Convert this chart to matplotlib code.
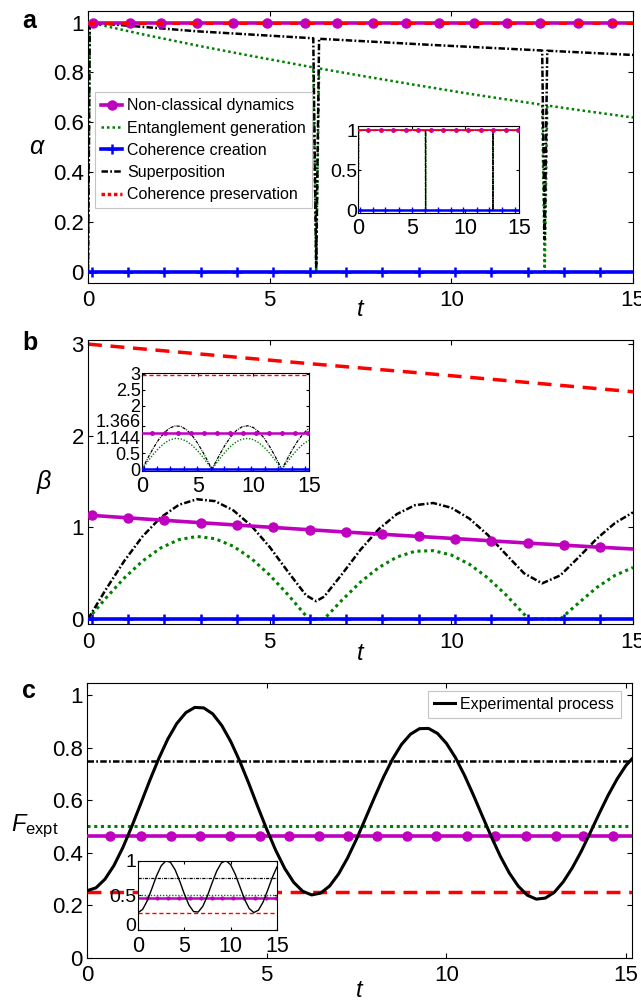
import numpy as np
import matplotlib
matplotlib.use('Agg')
from matplotlib import pyplot as plt
from matplotlib.lines import Line2D
from matplotlib.transforms import ScaledTranslation

plt.rcParams['font.family'] = ['Liberation Sans', 'DejaVu Sans']
plt.rcParams['mathtext.fontset'] = 'custom'
plt.rcParams['mathtext.rm'] = 'Liberation Sans'
plt.rcParams['mathtext.it'] = 'Liberation Sans:italic'

MAG = '#bf00bf'
GREEN = '#008000'
BLUE = '#0000ff'
RED = '#ff0000'
DASHDOT = (0, (2.6, 0.9, 0.7, 0.9))
DOTTED = (0, (1, 1.2))
DASHED = (0, (4, 2.5))

"""data read off the figure"""

labels = ['Non-classical dynamics', 'Entanglement generation', 'Coherence creation',
          'Superposition', 'Coherence preservation']

# panel a (alpha)
a_span = [0, 15]
a_mag_marks = [0.14, 1.16, 2.02, 3.0, 3.99, 4.92, 5.96, 6.85, 7.85, 8.75, 9.67, 10.62,
               11.53, 12.44, 13.5, 14.42]
a_blue_marks = [0.1, 1.1, 2.1, 3.1, 4.1, 5.1, 6.1, 7.1, 8.1, 9.1, 10.1, 11.1, 12.1, 13.1, 14.1]
a_mag = 1.0
a_red = 1.0
a_blue = 0.0
a_black_t = [0, 0.05, 3.0, 6.2, 6.28, 6.36, 9.5, 12.5, 12.57, 12.64, 15]
a_black = [0, 1.0, 0.965, 0.937, 0.02, 0.935, 0.91, 0.888, 0.13, 0.887, 0.87]
a_green_t = [0, 0.05, 1.5, 3.0, 4.5, 6.2, 6.28, 6.36, 7.5, 9.0, 10.5, 12.5, 12.57, 12.64, 13.5, 15]
a_green = [0, 1.0, 0.953, 0.908, 0.866, 0.820, 0.0, 0.816, 0.787, 0.750, 0.714, 0.670, 0.0,
           0.667, 0.649, 0.619]

# inset a
ia_t = [0, 0.03, 6.26, 6.28, 6.30, 12.55, 12.57, 12.59, 15]
ia_black = [0, 1, 1, 0, 1, 1, 0, 1, 1]
ia_green = [0, 1, 1, 0, 1, 1, 0, 1, 1]
ins_mag_marks = [0.93, 2.1, 3.27, 4.44, 5.6, 6.77, 7.94, 9.1, 10.27, 11.44, 12.6, 13.77, 14.94]
ins_blue_marks = [0.16, 1.34, 2.49, 3.8, 4.98, 6.22, 7.41, 8.62, 9.8, 11.05, 12.23, 13.44, 14.63]

# panel b (beta)
b_red_t = [0, 3, 6, 9, 12, 15]
b_red = [3.0, 2.895, 2.79, 2.69, 2.585, 2.48]
b_mag_t = [0, 0.1, 1.1, 2.1, 3.1, 4.1, 5.1, 6.1, 7.1, 8.1, 9.1, 10.1, 11.1, 12.1, 13.1, 14.1, 15]
b_mag = [1.134, 1.131, 1.104, 1.077, 1.051, 1.025, 0.999, 0.974, 0.949, 0.925, 0.901, 0.878,
         0.853, 0.829, 0.806, 0.783, 0.764]
b_black_t = [0, 0.5, 1, 1.5, 2, 2.5, 3, 3.5, 4, 4.5, 5, 5.5, 6, 6.28, 6.5, 7, 7.5, 8, 8.5, 9,
             9.5, 10, 10.5, 11, 11.5, 12, 12.5, 13, 13.5, 14, 14.5, 15]
b_black = [0, 0.328, 0.635, 0.901, 1.108, 1.246, 1.307, 1.286, 1.186, 1.015, 0.786, 0.518,
           0.259, 0.195, 0.244, 0.494, 0.756, 0.980, 1.145, 1.242, 1.266, 1.214, 1.095, 0.919,
           0.707, 0.499, 0.389, 0.476, 0.672, 0.875, 1.046, 1.164]
b_green_t = [0, 0.5, 1, 1.5, 2, 2.5, 3, 3.5, 4, 4.5, 5, 5.5, 6, 6.07, 6.5, 7, 7.5, 8, 8.5, 9,
             9.5, 10, 10.5, 11, 11.5, 12, 12.11, 12.5, 13, 13.5, 14, 14.5, 15]
b_green = [0, 0.232, 0.448, 0.632, 0.775, 0.866, 0.901, 0.876, 0.794, 0.659, 0.480, 0.267,
           0.035, 0, 0, 0.210, 0.403, 0.561, 0.676, 0.739, 0.746, 0.698, 0.597, 0.450, 0.265,
           0.054, 0, 0, 0, 0.174, 0.343, 0.475, 0.562]

# inset b
ib_t = [0, 0.5, 1, 1.5, 2, 2.5, 3, 3.5, 4, 4.5, 5, 5.5, 6, 6.28, 6.5, 7, 7.5, 8, 8.5, 9, 9.5,
        10, 10.5, 11, 11.5, 12, 12.5, 12.57, 13, 13.5, 14, 14.5, 15]
ib_black = [0, 0.338, 0.655, 0.931, 1.149, 1.296, 1.363, 1.344, 1.242, 1.063, 0.818, 0.521,
            0.193, 0, 0.148, 0.479, 0.781, 1.034, 1.223, 1.335, 1.365, 1.310, 1.173, 0.964,
            0.694, 0.382, 0.045, 0, 0.294, 0.615, 0.897, 1.124, 1.281]
ib_green = [0, 0.240, 0.465, 0.661, 0.816, 0.921, 0.968, 0.954, 0.882, 0.755, 0.581, 0.370,
            0.137, 0, 0.105, 0.340, 0.554, 0.734, 0.868, 0.948, 0.969, 0.930, 0.833, 0.684,
            0.493, 0.271, 0.032, 0, 0.209, 0.437, 0.637, 0.798, 0.910]
ib_mag = 1.144
ib_red = 2.95
ib_yticks = [0, 0.5, 1.144, 1.366, 2, 2.5, 3]
ib_yticklabels = ['0', '0.5', '1.144', '1.366', '2', '2.5', '3']

# panel c (F_expt), experimental curve sampled every 0.25
c_t = np.arange(0, 15.26, 0.25)
c_expt = [0.255, 0.266, 0.299, 0.351, 0.420, 0.501, 0.588, 0.676, 0.759, 0.833, 0.892, 0.933,
          0.953, 0.951, 0.928, 0.884, 0.823, 0.748, 0.664, 0.575, 0.489, 0.409, 0.340, 0.287,
          0.253, 0.239, 0.246, 0.273, 0.319, 0.380, 0.452, 0.531, 0.611, 0.688, 0.756, 0.812,
          0.851, 0.872, 0.873, 0.854, 0.816, 0.762, 0.695, 0.619, 0.539, 0.460, 0.386, 0.322,
          0.272, 0.238, 0.223, 0.227, 0.249, 0.289, 0.342, 0.405, 0.476, 0.549, 0.619, 0.681,
          0.733, 0.770]
c_span = [0, 15.3]
c_black = 0.75
c_green = 0.5
c_mag = 0.465
c_red = 0.25
c_mag_marks = [0.65, 1.51, 2.34, 3.15, 3.98, 4.81, 5.63, 6.46, 7.27, 8.08, 8.91, 9.72, 10.56,
               11.36, 12.2, 13.04, 13.81, 14.62]

# inset c, sampled every 0.5
ic_t = np.arange(0, 15.01, 0.5)
ic_expt = [0.25, 0.296, 0.422, 0.598, 0.781, 0.925, 0.996, 0.976, 0.870, 0.704, 0.519, 0.359,
           0.265, 0.259, 0.342, 0.495, 0.680, 0.851, 0.967, 0.999, 0.940, 0.803, 0.623, 0.443,
           0.309, 0.251, 0.285, 0.402, 0.574, 0.758, 0.910]
ic_black = 0.75
ic_green = 0.5
ic_mag = 0.46
ic_red = 0.25


def style_axes(ax, xlim, ylim, yticks, yticklabels, xsize=16, ysize=16, xpad=5.5, ypad=3, ticklen=3.5):
    ax.set_xlim(xlim)
    ax.set_ylim(ylim)
    ax.set_xticks([0, 5, 10, 15])
    ax.set_xticklabels(['0', '5', '10', '15'])
    ax.set_yticks(yticks)
    ax.set_yticklabels(yticklabels)
    ax.tick_params(direction='in', top=True, right=True, length=ticklen, width=0.8)
    ax.tick_params(axis='x', labelsize=xsize, pad=xpad)
    ax.tick_params(axis='y', labelsize=ysize, pad=ypad)
    for s in ax.spines.values():
        s.set_linewidth(0.8)


def const(v, ts):
    return [v] * len(ts)


fig = plt.figure(figsize=(6.41, 10.02), dpi=100)

"""panel a"""
ax = fig.add_axes([0.1373, 0.7179, 0.8502, 0.2715])
ax.plot(a_span, const(a_mag, a_span), color=MAG, lw=2.6, zorder=3)
ax.plot(a_mag_marks, const(a_mag, a_mag_marks), 'o', color=MAG, ms=6.5, zorder=3)
ax.plot(a_span, const(a_red, a_span), color=RED, lw=2.2, ls=(0, (2.5, 3)), zorder=4)
ax.plot(a_green_t, a_green, color=GREEN, lw=1.8, ls=DOTTED, zorder=2)
ax.plot(a_black_t, a_black, color='k', lw=1.8, ls=DASHDOT, zorder=2)
ax.plot(a_span, const(a_blue, a_span), color=BLUE, lw=2.6, zorder=5)
ax.plot(a_blue_marks, const(a_blue, a_blue_marks), '+', color=BLUE, ms=7, mew=1.8, zorder=5)
style_axes(ax, (0, 15), (-0.044, 1.048), [0, 0.2, 0.4, 0.6, 0.8, 1],
           ['0', '0.2', '0.4', '0.6', '0.8', '1'])
ax.set_ylabel('α', rotation=0, fontsize=18, style='italic', ha='center', va='center')
ax.yaxis.set_label_coords(-0.095, 0.5)
ax.set_xlabel('t', fontsize=17, style='italic', va='center')
ax.xaxis.set_label_coords(0.5, -0.10)
handles = [Line2D([], [], color=MAG, lw=2.6, marker='o', ms=6.5),
           Line2D([], [], color=GREEN, lw=1.8, ls=DOTTED),
           Line2D([], [], color=BLUE, lw=2.6, marker='+', ms=7, mew=1.8),
           Line2D([], [], color='k', lw=1.8, ls=DASHDOT),
           Line2D([], [], color=RED, lw=2.5, ls=(0, (1, 0.8)))]
leg = ax.legend(handles, labels, loc='upper left', bbox_to_anchor=(0.0128, 0.701), borderaxespad=0,
                fontsize=11.5, handlelength=1.3, handletextpad=0.3, labelspacing=0.45, borderpad=0.4,
                fancybox=False, edgecolor='#c4c4c4', framealpha=1)
leg.get_frame().set_linewidth(0.8)

ins = fig.add_axes([0.559, 0.7877, 0.2507, 0.0865])
ins.plot(a_span, const(a_mag, a_span), color=MAG, lw=1.2, zorder=3)
ins.plot(ins_mag_marks, const(a_mag, ins_mag_marks), 'o', color=MAG, ms=2.5, zorder=3)
ins.plot(a_span, const(a_red, a_span), color=RED, lw=1.0, ls=(0, (3, 2)), zorder=4)
ins.plot(ia_t, ia_green, color=GREEN, lw=1.0, ls=DOTTED, zorder=2)
ins.plot(ia_t, ia_black, color='k', lw=0.9, ls=DASHDOT, zorder=2)
ins.plot(a_span, const(a_blue, a_span), color=BLUE, lw=1.8, zorder=5)
ins.plot(ins_blue_marks, const(a_blue, ins_blue_marks), '+', color=BLUE, ms=4.5, mew=1, zorder=5)
style_axes(ins, (0, 15), (-0.034, 1.054), [0, 0.5, 1], ['0', '0.5', '1'],
           xsize=15.5, ysize=14, xpad=4, ypad=1, ticklen=2)

"""panel b"""
ax = fig.add_axes([0.1373, 0.3772, 0.8502, 0.2834])
ax.plot(b_red_t, b_red, color=RED, lw=2.5, ls=DASHED)
ax.plot(b_green_t, b_green, color=GREEN, lw=2.2, ls=DOTTED, zorder=2)
ax.plot(b_black_t, b_black, color='k', lw=1.8, ls=DASHDOT, zorder=2)
ax.plot(b_mag_t, b_mag, color=MAG, lw=2.6, marker='o', ms=6.5, markevery=slice(1, -1), zorder=3)
ax.plot(a_span, const(a_blue, a_span), color=BLUE, lw=2.6, zorder=5)
ax.plot(a_blue_marks, const(a_blue, a_blue_marks), '+', color=BLUE, ms=7, mew=1.8, zorder=5)
style_axes(ax, (0, 15), (-0.055, 3.044), [0, 1, 2, 3], ['0', '1', '2', '3'])
ax.set_ylabel('β', rotation=0, fontsize=18, style='italic', ha='center', va='center')
ax.yaxis.set_label_coords(-0.081, 0.5)
ax.set_xlabel('t', fontsize=17, style='italic', va='center')
ax.xaxis.set_label_coords(0.5, -0.102)

ins = fig.add_axes([0.2215, 0.530, 0.2605, 0.0978])
ins.plot(a_span, const(ib_red, a_span), color=RED, lw=1.0, ls=(0, (3, 2)))
ins.plot(ib_t, ib_green, color=GREEN, lw=1.0, ls=DOTTED, zorder=2)
ins.plot(ib_t, ib_black, color='k', lw=0.9, ls=DASHDOT, zorder=2)
ins.plot(a_span, const(ib_mag, a_span), color=MAG, lw=1.8, zorder=3)
ins.plot(ins_mag_marks, const(ib_mag, ins_mag_marks), 'o', color=MAG, ms=2.5, zorder=3)
ins.plot(a_span, const(a_blue, a_span), color=BLUE, lw=1.8, zorder=5)
ins.plot(ins_blue_marks, const(a_blue, ins_blue_marks), '+', color=BLUE, ms=4.5, mew=1, zorder=5)
style_axes(ins, (0, 15), (-0.05, 3.02), ib_yticks, ib_yticklabels,
           xsize=15.5, ysize=13, xpad=4, ypad=1, ticklen=2)
# the two close labels are pushed apart as in the original
ylabs = ins.get_yticklabels()
ylabs[2].set_transform(ylabs[2].get_transform() + ScaledTranslation(0, -3.4 / 72, fig.dpi_scale_trans))
ylabs[3].set_transform(ylabs[3].get_transform() + ScaledTranslation(0, 3.6 / 72, fig.dpi_scale_trans))

"""panel c"""
ax = fig.add_axes([0.1357, 0.0442, 0.8496, 0.2742])
ax.plot(c_span, const(c_black, c_span), color='k', lw=1.8, ls=DASHDOT, zorder=2)
ax.plot(c_span, const(c_green, c_span), color=GREEN, lw=2.2, ls=DOTTED, zorder=2)
ax.plot(c_span, const(c_mag, c_span), color=MAG, lw=2.6, zorder=3)
ax.plot(c_mag_marks, const(c_mag, c_mag_marks), 'o', color=MAG, ms=6.5, zorder=3)
ax.plot(c_span, const(c_red, c_span), color=RED, lw=2.5, ls=DASHED, zorder=3)
ax.plot(c_t, c_expt, color='k', lw=2.2, zorder=4, label='Experimental process')
style_axes(ax, (0, 15.15), (0, 1.046), [0, 0.2, 0.4, 0.6, 0.8, 1],
           ['0', '0.2', '0.4', '0.6', '0.8', '1'])
ax.set_ylabel('$F_{\\mathrm{expt}}$', rotation=0, fontsize=17, ha='center', va='center')
ax.yaxis.set_label_coords(-0.095, 0.48)
ax.set_xlabel('t', fontsize=17, style='italic', va='center')
ax.xaxis.set_label_coords(0.5, -0.118)
leg = ax.legend(loc='upper right', bbox_to_anchor=(0.98, 0.972), borderaxespad=0, fontsize=11.5,
                handlelength=1.3, handletextpad=0.35, borderpad=0.4, fancybox=False,
                edgecolor='#c4c4c4', framealpha=1)
leg.get_frame().set_linewidth(0.8)

ins = fig.add_axes([0.2153, 0.0719, 0.2168, 0.0692])
ins.plot(a_span, const(ic_black, a_span), color='k', lw=0.9, ls=DASHDOT)
ins.plot(a_span, const(ic_green, a_span), color=GREEN, lw=1.0, ls=DOTTED)
ins.plot(a_span, const(ic_mag, a_span), color=MAG, lw=1.8)
ins.plot(ins_mag_marks, const(ic_mag, ins_mag_marks), 'o', color=MAG, ms=2.0)
ins.plot(a_span, const(ic_red, a_span), color=RED, lw=1.0, ls=(0, (3, 2)))
ins.plot(ic_t, ic_expt, color='k', lw=1.0)
style_axes(ins, (0, 15), (0, 1), [0, 0.5, 1], ['0', '0.5', '1'],
           xsize=15.5, ysize=14, xpad=4, ypad=1, ticklen=2)
# the bottom label sits a little higher in the original
ylabs = ins.get_yticklabels()
ylabs[0].set_transform(ylabs[0].get_transform() + ScaledTranslation(0, 4 / 72, fig.dpi_scale_trans))

# panel letters
for letter, y in [('a', 28), ('b', 350), ('c', 698)]:
    fig.text(22 / 641, 1 - y / 1002, letter, fontsize=18, fontweight='bold', ha='left', va='baseline')

fig.savefig('out.png', dpi=100)
